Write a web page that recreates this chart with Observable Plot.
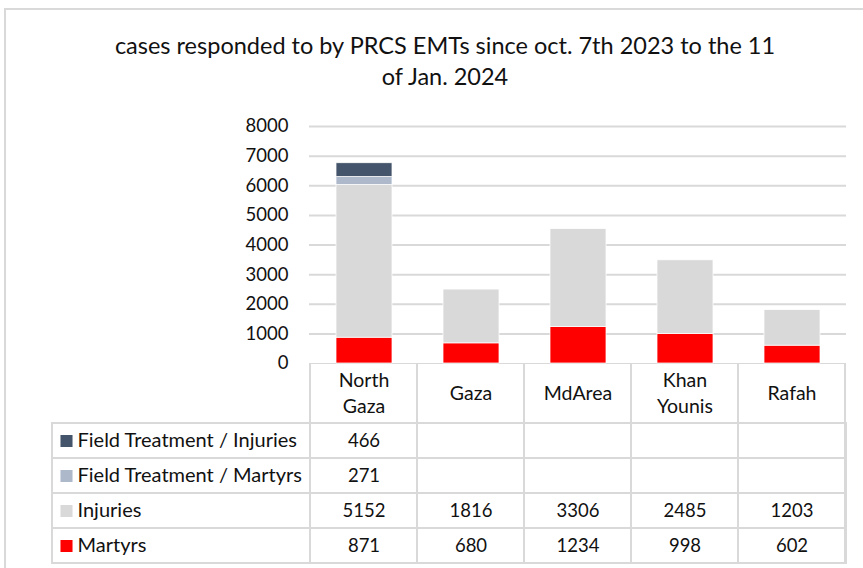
<!DOCTYPE html>
<html>
<head>
<meta charset="utf-8">
<script src="https://cdn.jsdelivr.net/npm/d3@7"></script>
<script src="https://cdn.jsdelivr.net/npm/@observablehq/plot@0.6"></script>
<style>
  html, body { margin: 0; padding: 0; background: #fff; overflow: hidden; width: 863px; height: 568px; }
  #page { position: relative; width: 863px; height: 568px; font-family: Lato, sans-serif; color: #111; }
  #border { position: absolute; left: 4px; top: 8px; width: 900px; height: 600px; border-left: 2px solid #d9d9d9; border-top: 2px solid #d9d9d9; }
  #title { position: absolute; left: 0; width: 890px; top: 30px; text-align: center; font-size: 23.5px; line-height: 31px; color: #111; white-space: nowrap; }
  .layer { position: absolute; left: 0; }
</style>
</head>
<body>
<div id="page">
  <div id="border"></div>
  <div id="title">cases responded to by PRCS EMTs since oct. 7th 2023 to the 11<br>of Jan. 2024</div>
  <div id="table" class="layer" style="top:363px"></div>
  <div id="bars" class="layer" style="top:100px"></div>
</div>
<script>
const categories = ["North Gaza", "Gaza", "MdArea", "Khan Younis", "Rafah"];
const headerLabels = ["North\nGaza", "Gaza", "MdArea", "Khan\nYounis", "Rafah"];
const seriesNames = ["Martyrs", "Injuries", "Field Treatment / Martyrs", "Field Treatment / Injuries"];
const martyrs = [871, 680, 1234, 998, 602];
const injuries = [5152, 1816, 3306, 2485, 1203];
const ftMartyrs = [271, null, null, null, null];
const ftInjuries = [466, null, null, null, null];
const seriesColors = ["#FF0000", "#D9D9D9", "#ADB9CA", "#44546A"];
const yTicks = [0, 1000, 2000, 3000, 4000, 5000, 6000, 7000, 8000];

const seriesValues = [martyrs, injuries, ftMartyrs, ftInjuries];
const rows = [];
categories.forEach((c, i) => {
  seriesNames.forEach((s, j) => {
    rows.push({cat: c, series: s, value: seriesValues[j][i]});
  });
});
const tableOrder = seriesNames.slice().reverse();
const gridColor = "#d9d9d9";
const font = "Lato, sans-serif";

const bars = Plot.plot({
  width: 863, height: 276,
  marginTop: 26, marginBottom: 13, marginLeft: 309, marginRight: 17,
  style: {background: "transparent", fontFamily: font, fontSize: "18px", color: "#111"},
  x: {domain: categories, paddingInner: 0.48, paddingOuter: 0.24, axis: null},
  y: {domain: [0, 8000], label: null},
  color: {domain: seriesNames, range: seriesColors},
  marks: [
    Plot.gridY(yTicks.slice(1), {stroke: gridColor, strokeOpacity: 1, strokeWidth: 2}),
    Plot.axisY(yTicks, {tickSize: 0, tickPadding: 21, tickFormat: d => String(d), fontSize: 18.5, fill: "#111", label: null}),
    Plot.barY(rows.filter(d => d.value != null), {x: "cat", y: "value", fill: "series", stroke: "white", strokeWidth: 0.75})
  ]
});
document.getElementById("bars").appendChild(bars);

const table = Plot.plot({
  width: 863, height: 205,
  marginTop: 59, marginBottom: 5, marginLeft: 309, marginRight: 17,
  style: {background: "transparent", fontFamily: font, fontSize: "18px", color: "#111"},
  x: {domain: categories, padding: 0, axis: null},
  y: {domain: tableOrder, padding: 0, axis: null},
  color: {domain: seriesNames, range: seriesColors},
  marks: [
    Plot.cell(tableOrder, {y: d => d, fill: "none", stroke: gridColor, strokeWidth: 2, insetLeft: -257}),
    Plot.cell(categories, {x: d => d, fill: "none", stroke: gridColor, strokeWidth: 2, insetTop: -59}),
    Plot.text(categories, {x: d => d, text: (d, i) => headerLabels[i], frameAnchor: "top", lineAnchor: "middle", dy: -30.5, lineHeight: 1.3, fontSize: 19.5, fill: "#111"}),
    Plot.text(rows.filter(d => d.value != null), {x: "cat", y: "series", text: d => String(d.value), fontSize: 18.5, fill: "#111"}),
    Plot.dot(tableOrder, {y: d => d, frameAnchor: "left", dx: -243, symbol: "square", r: 6.8, fill: d => d, stroke: null}),
    Plot.text(tableOrder, {y: d => d, text: d => d, frameAnchor: "left", dx: -232, textAnchor: "start", fontSize: 20, fill: "#111"})
  ]
});
document.getElementById("table").appendChild(table);
</script>
</body>
</html>
